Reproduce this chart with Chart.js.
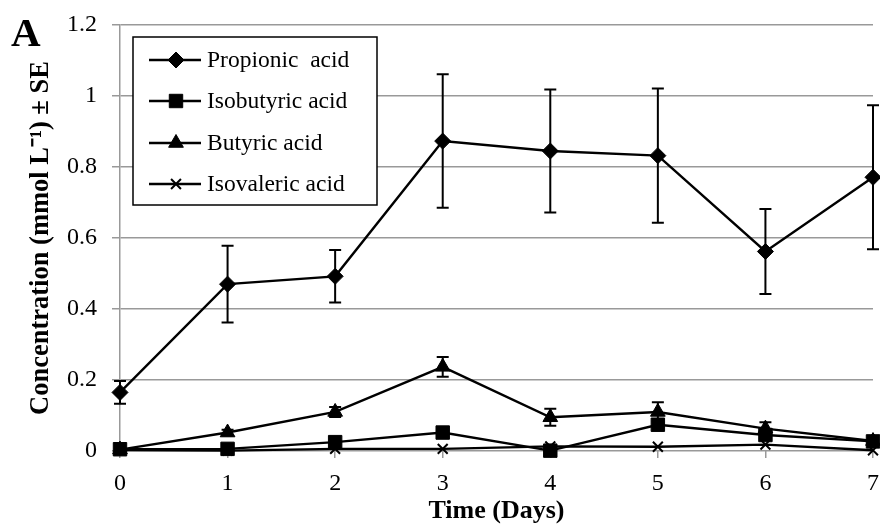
<!DOCTYPE html>
<html>
<head>
<meta charset="utf-8">
<script src="https://cdn.jsdelivr.net/npm/chart.js@4"></script>
<style>
  html, body { margin: 0; padding: 0; background: #fff; }
  #wrap { width: 880px; height: 527px; }
</style>
</head>
<body>
<div id="wrap"><canvas id="vfa-graph" width="880" height="527"></canvas></div>
<script>
// days sampled
const days = [0, 1, 2, 3, 4, 5, 6, 7];

// concentrations (mmol/L) and standard errors
const propionic   = [0.165, 0.470, 0.492, 0.873, 0.845, 0.832, 0.562, 0.771];
const propionicSE = [0.032, 0.108, 0.074, 0.188, 0.173, 0.189, 0.120, 0.203];
const isobutyric   = [0.005, 0.006, 0.025, 0.052, 0.001, 0.074, 0.045, 0.027];
const isobutyricSE = [0, 0, 0, 0, 0, 0, 0, 0];
const butyric   = [0.004, 0.052, 0.110, 0.237, 0.095, 0.110, 0.063, 0.028];
const butyricSE = [0, 0.008, 0.014, 0.028, 0.024, 0.027, 0.018, 0.004];
const isovaleric   = [0.003, 0.001, 0.006, 0.006, 0.013, 0.012, 0.018, 0.002];
const isovalericSE = [0, 0, 0, 0, 0, 0, 0, 0];

const yTicks = [0, 0.2, 0.4, 0.6, 0.8, 1, 1.2];

const serif = "'Liberation Serif', 'Times New Roman', serif";

function pts(values) {
   return days.map((d, i) => ({ x: d, y: values[i] }));
}

function series(label, values, se, style, radius) {
   return {
      label: label,
      data: pts(values),
      se: se,
      borderColor: '#000',
      backgroundColor: '#000',
      borderWidth: 2.4,
      tension: 0,
      pointStyle: style,
      pointRadius: radius,
      pointHoverRadius: radius,
      pointBorderColor: '#000',
      pointBackgroundColor: '#000',
      pointBorderWidth: style === 'crossRot' ? 2 : 1,
   };
}

// vertical SE whiskers with caps, drawn under the markers
const errorBars = {
   id: 'errorBars',
   beforeDatasetsDraw(chart) {
      const ctx = chart.ctx;
      const y = chart.scales.y;
      ctx.save();
      ctx.strokeStyle = '#000';
      ctx.lineWidth = 2;
      chart.data.datasets.forEach((ds, di) => {
         const meta = chart.getDatasetMeta(di);
         meta.data.forEach((pt, i) => {
            const e = ds.se[i];
            if (!e) return;
            const v = ds.data[i].y;
            const top = y.getPixelForValue(v + e);
            const bot = y.getPixelForValue(v - e);
            ctx.beginPath();
            ctx.moveTo(pt.x, top);
            ctx.lineTo(pt.x, bot);
            ctx.moveTo(pt.x - 6, top);
            ctx.lineTo(pt.x + 6, top);
            ctx.moveTo(pt.x - 6, bot);
            ctx.lineTo(pt.x + 6, bot);
            ctx.stroke();
         });
      });
      ctx.restore();
   }
};

// boxed legend in the top-left of the plot, plus the panel letter
const boxLegend = {
   id: 'boxLegend',
   afterDraw(chart) {
      const ctx = chart.ctx;
      const bx = 133, by = 37, bw = 244, bh = 168;
      ctx.save();
      ctx.fillStyle = '#fff';
      ctx.fillRect(bx, by, bw, bh);
      ctx.strokeStyle = '#000';
      ctx.lineWidth = 1.5;
      ctx.strokeRect(bx, by, bw, bh);
      const rows = [60, 101, 143, 184];
      ctx.font = '23.5px ' + serif;
      ctx.textBaseline = 'middle';
      chart.data.datasets.forEach((ds, i) => {
         const ry = rows[i];
         ctx.strokeStyle = '#000';
         ctx.lineWidth = 2.4;
         ctx.beginPath();
         ctx.moveTo(149, ry);
         ctx.lineTo(201, ry);
         ctx.stroke();
         ctx.lineWidth = ds.pointBorderWidth;
         ctx.fillStyle = '#000';
         Chart.helpers.drawPoint(ctx, {
            pointStyle: ds.pointStyle,
            radius: ds.pointRadius,
            borderWidth: ds.pointBorderWidth,
            rotation: 0
         }, 176, ry);
         ctx.fillStyle = '#000';
         ctx.fillText(ds.label, 207, ry + 1);
      });
      ctx.font = 'bold 41px ' + serif;
      ctx.textBaseline = 'alphabetic';
      ctx.fillText('A', 11, 46);
      ctx.restore();
   }
};

const ctx = document.getElementById('vfa-graph').getContext('2d');
const chart = new Chart(ctx, {
   type: 'line',
   data: {
      datasets: [
         series('Propionic  acid', propionic, propionicSE, 'rectRot', 8),
         series('Isobutyric acid', isobutyric, isobutyricSE, 'rect', 9.5),
         series('Butyric acid', butyric, butyricSE, 'triangle', 8.5),
         series('Isovaleric acid', isovaleric, isovalericSE, 'crossRot', 7),
      ]
   },
   plugins: [errorBars, boxLegend],
   options: {
      responsive: false,
      animation: false,
      clip: false,
      layout: {
         autoPadding: false,
         padding: { left: 0, right: 7, top: 25, bottom: 0 }
      },
      plugins: {
         legend: { display: false },
         tooltip: { enabled: false }
      },
      scales: {
         x: {
            type: 'linear',
            min: 0,
            max: 7,
            afterBuildTicks(scale) {
               scale.ticks = days.map(d => ({ value: d }));
            },
            border: { display: false },
            grid: {
               drawOnChartArea: false,
               drawTicks: true,
               tickLength: 7,
               color: '#999',
               lineWidth: 1.5
            },
            ticks: {
               color: '#000',
               padding: 11,
               font: { family: serif, size: 24 }
            },
            title: {
               display: true,
               text: 'Time (Days)',
               color: '#000',
               padding: { top: 0, bottom: 0 },
               font: { family: serif, size: 26, weight: 'bold' }
            },
            afterFit(scale) {
               scale.height = 76;
               scale.paddingLeft = 0;
               scale.paddingRight = 0;
            }
         },
         y: {
            min: 0,
            max: 1.2,
            afterBuildTicks(scale) {
               scale.ticks = yTicks.map(v => ({ value: v }));
            },
            border: { display: true, color: '#999', width: 1.5 },
            grid: {
               color: '#999',
               lineWidth: 1.5,
               tickLength: 8
            },
            ticks: {
               color: '#000',
               padding: 15,
               font: { family: serif, size: 24 },
               callback: v => String(Math.round(v * 10) / 10)
            },
            title: {
               display: true,
               text: 'Concentration (mmol L\u207B\u00B9) \u00B1 SE',
               color: '#000',
               padding: { top: 25, bottom: 0 },
               font: { family: serif, size: 26.5, weight: 'bold' }
            },
            afterFit(scale) {
               scale.width = 120;
               scale.paddingTop = 0;
               scale.paddingBottom = 0;
            }
         }
      }
   }
});
</script>
</body>
</html>
